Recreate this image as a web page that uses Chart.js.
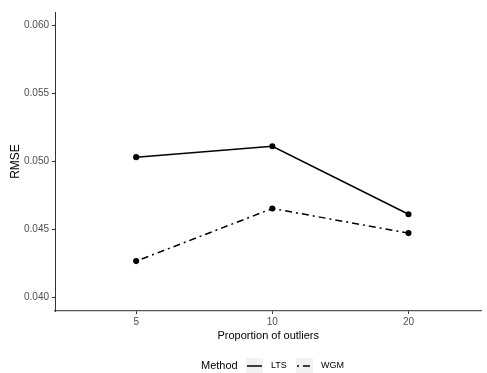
<!DOCTYPE html>
<html>
<head>
<meta charset="utf-8">
<script src="https://cdn.jsdelivr.net/npm/chart.js@4"></script>
<style>
  html, body { margin:0; padding:0; background:#fff; }
  #wrap { width:487px; height:373px; }
</style>
</head>
<body>
<div id="wrap"><canvas id="chartRmse" width="487" height="373"></canvas></div>
<script>
const categories = ['5', '10', '20'];
const ltsValues = [0.05032, 0.05112, 0.04612];
const wgmValues = [0.04267, 0.04654, 0.04473];
const yTickValues = [0.040, 0.045, 0.050, 0.055, 0.060];

const toPoints = vals => vals.map((v, i) => ({ x: i + 1, y: v }));

// ggplot-style legend strip under the plot
const methodLegend = {
  id: 'methodLegend',
  afterDraw(chart){
    const ctx = chart.ctx;
    const cy = 366;
    ctx.save();
    ctx.fillStyle = '#000';
    ctx.font = '11px "Liberation Sans", Arial, sans-serif';
    ctx.textBaseline = 'middle';
    ctx.textAlign = 'left';
    ctx.fillText('Method', 201, cy);
    const keys = [
      { x: 246, label: 'LTS', ds: chart.data.datasets[0] },
      { x: 296, label: 'WGM', ds: chart.data.datasets[1] }
    ];
    for (const k of keys){
      ctx.fillStyle = '#f2f2f2';
      ctx.fillRect(k.x, cy - 8, 17, 17);
      ctx.strokeStyle = '#000';
      ctx.lineWidth = 1.5;
      ctx.setLineDash(k.ds.borderDash || []);
      ctx.beginPath();
      ctx.moveTo(k.x + 1, cy);
      ctx.lineTo(k.x + 16, cy);
      ctx.stroke();
      ctx.setLineDash([]);
      ctx.fillStyle = '#000';
      ctx.font = '9px "Liberation Sans", Arial, sans-serif';
      ctx.fillText(k.label, k.x + 25, cy);
    }
    ctx.restore();
  }
};

new Chart(document.getElementById('chartRmse'), {
  type: 'scatter',
  data: {
    datasets: [
      {
        label: 'LTS',
        data: toPoints(ltsValues),
        showLine: true,
        borderColor: '#000',
        backgroundColor: '#000',
        borderWidth: 1.5,
        pointRadius: 2.3,
        tension: 0
      },
      {
        label: 'WGM',
        data: toPoints(wgmValues),
        showLine: true,
        borderColor: '#000',
        backgroundColor: '#000',
        borderWidth: 1.5,
        borderDash: [2, 4, 7, 4],
        pointRadius: 2.3,
        tension: 0
      }
    ]
  },
  options: {
    responsive: false,
    animation: false,
    layout: { padding: { top: 12, right: 0, bottom: 30, left: 0 } },
    plugins: { legend: { display: false }, tooltip: { enabled: false } },
    scales: {
      x: {
        type: 'linear',
        min: 0.404, max: 3.536,
        afterBuildTicks: s => { s.ticks = categories.map((c, i) => ({ value: i + 1 })); },
        afterFit: s => { s.height = 32; },
        ticks: {
          color: '#4d4d4d', padding: 2,
          font: { size: 10, family: '"Liberation Sans", Arial, sans-serif' },
          callback: v => categories[v - 1]
        },
        grid: { drawOnChartArea: false, drawTicks: true, tickLength: 3, color: '#333' },
        border: { display: true, color: '#555', width: 1.2 },
        title: {
          display: true, text: 'Proportion of outliers', color: '#000', padding: { top: 0, bottom: 0 },
          font: { size: 11, family: '"Liberation Sans", Arial, sans-serif' }
        }
      },
      y: {
        min: 0.039, max: 0.061,
        afterBuildTicks: s => { s.ticks = yTickValues.map(v => ({ value: v })); },
        afterFit: s => { s.width = 55; },
        ticks: {
          color: '#4d4d4d', padding: 3,
          font: { size: 10, family: '"Liberation Sans", Arial, sans-serif' },
          callback: v => v.toFixed(3)
        },
        grid: { drawOnChartArea: false, drawTicks: true, tickLength: 3, color: '#333' },
        border: { display: true, color: '#333', width: 1 },
        title: {
          display: true, text: 'RMSE', color: '#000', padding: { top: 8, bottom: 2 },
          font: { size: 12, family: '"Liberation Sans", Arial, sans-serif' }
        }
      }
    }
  },
  plugins: [methodLegend]
});
</script>
</body>
</html>
